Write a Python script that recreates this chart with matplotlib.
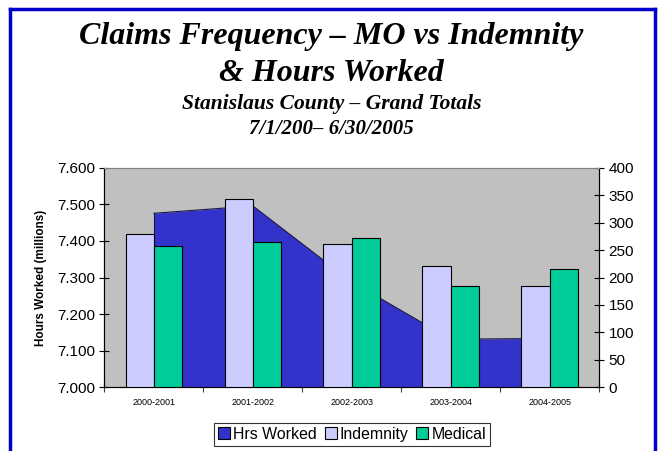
import numpy as np
import matplotlib
matplotlib.use("Agg")
import matplotlib.pyplot as plt
from matplotlib.lines import Line2D
from matplotlib.patches import Patch

# data
periods = ['2000-2001', '2001-2002', '2002-2003', '2003-2004', '2004-2005']
hrs_worked = [7.476, 7.496, 7.288, 7.131, 7.133]   # millions
indemnity = [279, 344, 262, 221, 185]
medical = [258, 265, 273, 185, 215]

plt.rcParams['font.family'] = ['Liberation Sans', 'DejaVu Sans']

fig = plt.figure(figsize=(6.63, 4.51), dpi=100)
ax = fig.add_axes([0.1576, 0.1419, 0.7459, 0.4856])
ax.set_facecolor('#C0C0C0')

x = np.arange(len(periods))

# area for hours worked (left axis)
ax.fill_between(x, 7.0, hrs_worked, color='#3333CC', linewidth=0, zorder=2)
ax.plot(x, hrs_worked, color='#1a1a40', linewidth=0.8, zorder=3)
ax.plot([x[0], x[0]], [7.0, hrs_worked[0]], color='#1a1a40', linewidth=0.8, zorder=3)
ax.set_ylim(7.0, 7.6)
ax.set_xlim(-0.5, len(periods) - 0.5)
ax.set_yticks(np.arange(7.0, 7.61, 0.1))
ax.set_yticklabels(['%.3f' % v for v in np.arange(7.0, 7.61, 0.1)], fontsize=11)
ax.set_ylabel('Hours Worked (millions)', fontsize=8.5, fontweight='bold', labelpad=7)

# x ticks: marks between categories, labels in the middle
ax.set_xticks(np.arange(-0.5, len(periods), 1.0))
ax.set_xticklabels([])
ax.set_xticks(x, minor=True)
ax.set_xticklabels(periods, minor=True, fontsize=6.5)
ax.tick_params(axis='x', which='minor', length=0, pad=8)
ax.tick_params(axis='x', which='major', direction='inout', length=7, color='#404040')
ax.tick_params(axis='y', direction='inout', length=7)

# bars on right axis
ax2 = ax.twinx()
w = 0.2857
ax2.bar(x - w / 2, indemnity, w, color='#CCCCFF', edgecolor='black', linewidth=0.8, zorder=3)
ax2.bar(x + w / 2, medical, w, color='#00CC99', edgecolor='black', linewidth=0.8, zorder=3)
ax2.set_ylim(0, 400)
ax2.set_yticks(np.arange(0, 401, 50))
ax2.tick_params(axis='y', direction='inout', length=7, labelsize=11)

for a in (ax, ax2):
    a.spines['top'].set_color('#808080')
    a.spines['left'].set_color('black')
    a.spines['right'].set_color('black')
    a.spines['bottom'].set_color('black')

# titles
fig.text(0.5, 0.918, 'Claims Frequency \u2013 MO vs Indemnity', ha='center', va='center',
         fontsize=23, fontweight='bold', style='italic', family='Liberation Serif')
fig.text(0.5, 0.836, '& Hours Worked', ha='center', va='center',
         fontsize=23, fontweight='bold', style='italic', family='Liberation Serif')
fig.text(0.5, 0.769, 'Stanislaus County \u2013 Grand Totals', ha='center', va='center',
         fontsize=15.5, fontweight='bold', style='italic', family='Liberation Serif')
fig.text(0.5, 0.714, '7/1/200\u2013 6/30/2005', ha='center', va='center',
         fontsize=15, fontweight='bold', style='italic', family='Liberation Serif')

# legend
handles = [Patch(facecolor='#3333CC', edgecolor='black', linewidth=0.8, label='Hrs Worked'),
           Patch(facecolor='#CCCCFF', edgecolor='black', linewidth=0.8, label='Indemnity'),
           Patch(facecolor='#00CC99', edgecolor='black', linewidth=0.8, label='Medical')]
leg = fig.legend(handles=handles, loc='center', bbox_to_anchor=(0.531, 0.037), ncol=3,
                 fontsize=11.4, frameon=True, fancybox=False, edgecolor='black',
                 handlelength=0.75, handleheight=0.75, handletextpad=0.2, columnspacing=0.5,
                 borderpad=0.25, borderaxespad=0)
leg.get_frame().set_linewidth(0.8)

# blue page border
bc = '#0000CC'
fig.add_artist(Line2D([0.015, 0.015], [0.0, 0.98], transform=fig.transFigure, color=bc, linewidth=2.5))
fig.add_artist(Line2D([0.988, 0.988], [0.0, 0.98], transform=fig.transFigure, color=bc, linewidth=2.5))
fig.add_artist(Line2D([0.015, 0.988], [0.98, 0.98], transform=fig.transFigure, color=bc, linewidth=2.5))

fig.savefig('out.png', dpi=100)
